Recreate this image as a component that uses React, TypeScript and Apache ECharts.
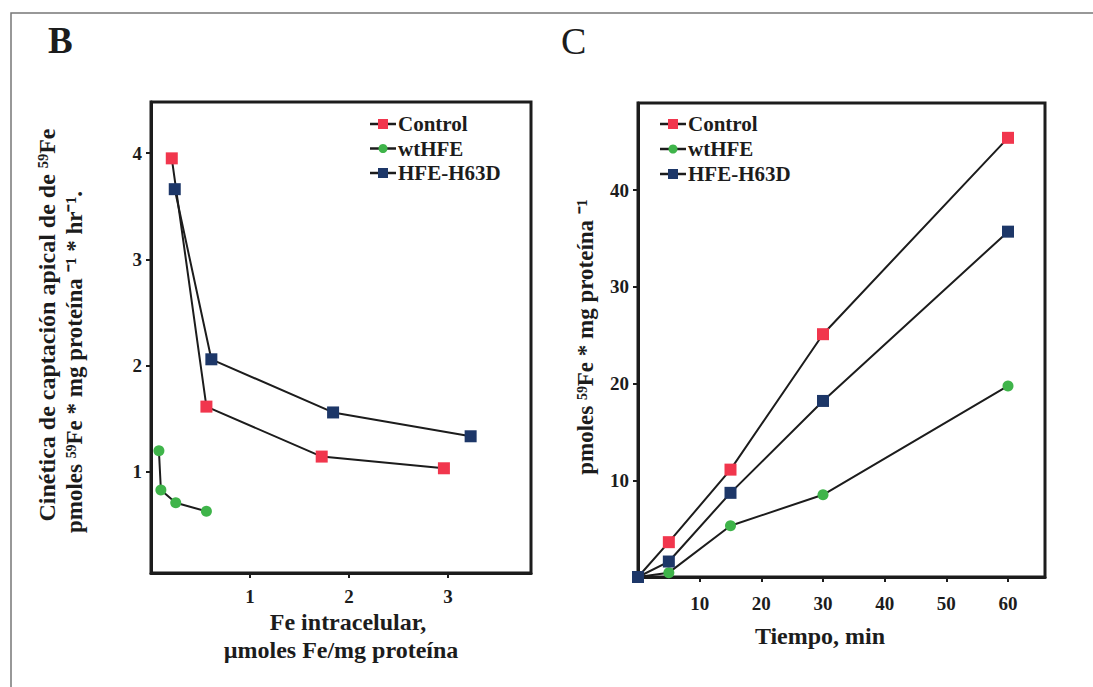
import React, { useEffect, useRef } from "react";
import * as echarts from "echarts";

// ---- Panel B data: [Fe intracelular, uptake rate]
const bControl: [number, number][] = [[0.21, 3.95], [0.56, 1.615], [1.725, 1.145], [2.96, 1.035]];
const bWtHFE: [number, number][] = [[0.08, 1.2], [0.1, 0.83], [0.25, 0.71], [0.56, 0.63]];
const bH63D: [number, number][] = [[0.24, 3.66], [0.61, 2.06], [1.84, 1.56], [3.23, 1.336]];
const bXTicks = [1, 2, 3];
const bYTicks = [1, 2, 3, 4];

// ---- Panel C data: time (min) vs pmoles
const cTimes = [0, 5, 15, 30, 60];
const cControl = [0, 3.6, 11.1, 25.1, 45.4];
const cWtHFE = [0, 0.45, 5.3, 8.5, 19.75];
const cH63D = [0, 1.6, 8.7, 18.2, 35.7];
const cXTicks = [10, 20, 30, 40, 50, 60];
const cYTicks = [10, 20, 30, 40];

const seriesNames = ["Control", "wtHFE", "HFE-H63D"];

const RED = "#f1364d";
const GREEN = "#3fb44a";
const NAVY = "#1d3768";
const INK = "#1c1c1c";
const FONT = "'Liberation Serif', 'Times New Roman', serif";
const colors = [RED, GREEN, NAVY];
const symbols = ["rect", "circle", "rect"];

export default function App() {
  const ref = useRef<HTMLDivElement>(null);
  useEffect(() => {
    if (!ref.current) return;
    const chart = echarts.init(ref.current, undefined, { renderer: "svg" });

    const axisCommon = {
      axisLine: { show: true, onZero: false, lineStyle: { color: INK, width: 3 } },
      axisTick: { show: true, inside: false, length: 5, lineStyle: { color: INK, width: 2 } },
      splitLine: { show: false },
    };
    const labelStyle = { color: INK, fontFamily: FONT, fontWeight: "bold" as const, fontSize: 19 };

    const mkLine = (name: string, data: any, xi: number, color: string, symbol: string, size: number) => ({
      type: "line",
      name,
      xAxisIndex: xi,
      yAxisIndex: xi,
      data,
      symbol,
      symbolSize: size,
      lineStyle: { color: INK, width: 2 },
      itemStyle: { color },
    });

    const cData = (vals: number[]) => cTimes.map((t, i) => [t, vals[i]]);

    const legendGraphic = (x0: number, y0: number, gap: number) =>
      seriesNames.map((name, i) => {
        const y = y0 + i * gap;
        const marker =
          symbols[i] === "circle"
            ? { type: "circle", shape: { cx: x0 + 13, cy: y, r: 4.5 }, style: { fill: colors[i] } }
            : { type: "rect", shape: { x: x0 + 8, y: y - 5, width: 10, height: 10 }, style: { fill: colors[i] } };
        return {
          type: "group",
          children: [
            { type: "line", shape: { x1: x0, y1: y, x2: x0 + 26, y2: y }, style: { stroke: INK, lineWidth: 2.5 } },
            marker,
            {
              type: "text", x: x0 + 28, y,
              style: { text: name, font: `bold 21px ${FONT}`, fill: INK, align: "left", verticalAlign: "middle" },
            },
          ],
        };
      });

    chart.setOption({
      animation: false,
      backgroundColor: "#ffffff",
      grid: [
        { left: 151, top: 102, width: 380, height: 471, show: true, borderColor: INK, borderWidth: 3, containLabel: false },
        { left: 638, top: 103, width: 407, height: 474, show: true, borderColor: INK, borderWidth: 3, containLabel: false },
      ],
      xAxis: [
        {
          type: "value", gridIndex: 0, min: 0, max: 3.84, ...axisCommon,
          axisTick: { ...axisCommon.axisTick, customValues: bXTicks },
          axisLabel: { ...labelStyle, margin: 14, customValues: bXTicks },
        },
        {
          type: "value", gridIndex: 1, min: 0, max: 66, ...axisCommon,
          axisTick: { ...axisCommon.axisTick, customValues: cXTicks },
          axisLabel: { ...labelStyle, margin: 17, customValues: cXTicks },
        },
      ],
      yAxis: [
        {
          type: "value", gridIndex: 0, min: 0.05, max: 4.48, ...axisCommon,
          axisTick: { ...axisCommon.axisTick, customValues: bYTicks },
          axisLabel: { ...labelStyle, margin: 9, customValues: bYTicks },
        },
        {
          type: "value", gridIndex: 1, min: 0, max: 49, ...axisCommon,
          axisTick: { ...axisCommon.axisTick, customValues: cYTicks },
          axisLabel: { ...labelStyle, margin: 9, customValues: cYTicks },
        },
      ],
      series: [
        mkLine("Control", bControl, 0, RED, "rect", 12),
        mkLine("wtHFE", bWtHFE, 0, GREEN, "circle", 11),
        mkLine("HFE-H63D", bH63D, 0, NAVY, "rect", 12),
        mkLine("Control", cData(cControl), 1, RED, "rect", 12),
        mkLine("wtHFE", cData(cWtHFE), 1, GREEN, "circle", 11),
        mkLine("HFE-H63D", cData(cH63D), 1, NAVY, "rect", 12),
      ],
      graphic: [
        {
          type: "rect", silent: true, z: -1,
          shape: { x: 11, y: 13, width: 1200, height: 800 },
          style: { fill: "none", stroke: "#777", lineWidth: 1.5 },
        },
        ...legendGraphic(370, 124, 24.5),
        ...legendGraphic(660, 124, 25),
        {
          type: "text", x: 48, y: 22,
          style: { text: "B", font: `bold 37px ${FONT}`, fill: INK },
        },
        {
          type: "text", x: 561, y: 22,
          style: { text: "C", font: `38px ${FONT}`, fill: INK },
        },
        {
          type: "text", x: 47, y: 325, rotation: Math.PI / 2,
          style: {
            text: "Cinética de captación apical de de \u2075\u2079Fe",
            font: `bold 24px ${FONT}`, fill: INK, align: "center", verticalAlign: "middle",
          },
        },
        {
          type: "text", x: 74, y: 362, rotation: Math.PI / 2,
          style: {
            text: "pmoles \u2075\u2079Fe * mg proteína \u207B\u00B9 * hr\u207B\u00B9.",
            font: `bold 23px ${FONT}`, fill: INK, align: "center", verticalAlign: "middle",
          },
        },
        {
          type: "text", x: 348, y: 622,
          style: { text: "Fe intracelular,", font: `bold 24px ${FONT}`, fill: INK, align: "center", verticalAlign: "middle" },
        },
        {
          type: "text", x: 341, y: 650,
          style: { text: "µmoles Fe/mg proteína", font: `bold 24px ${FONT}`, fill: INK, align: "center", verticalAlign: "middle" },
        },
        {
          type: "text", x: 585, y: 337, rotation: Math.PI / 2,
          style: {
            text: "pmoles \u2075\u2079Fe * mg proteína \u207B\u00B9",
            font: `bold 23px ${FONT}`, fill: INK, align: "center", verticalAlign: "middle",
          },
        },
        {
          type: "text", x: 820, y: 636,
          style: { text: "Tiempo, min", font: `bold 24px ${FONT}`, fill: INK, align: "center", verticalAlign: "middle" },
        },
      ],
    });
    return () => chart.dispose();
  }, []);
  return (
    <div
      ref={ref}
      style={{ position: "fixed", left: 0, top: 0, width: 1093, height: 687, background: "#fff" }}
    />
  );
}
